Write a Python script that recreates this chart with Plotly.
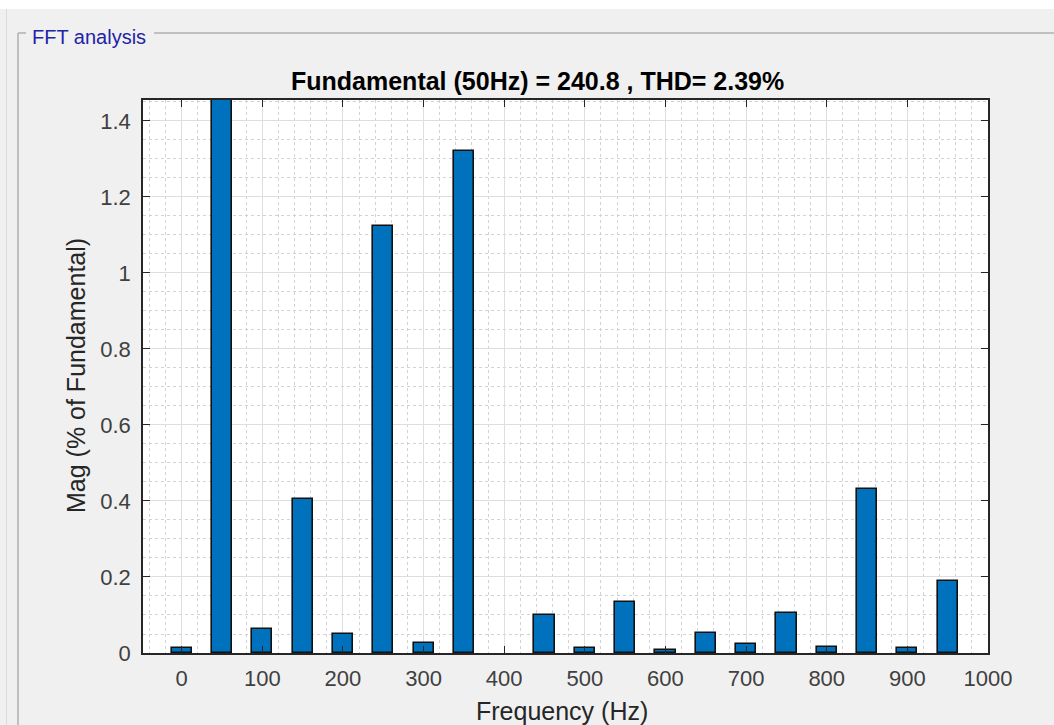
import plotly.graph_objects as go

# ---- data ----
freqs_hz = [0, 50, 100, 150, 200, 250, 300, 350, 400, 450,
            500, 550, 600, 650, 700, 750, 800, 850, 900, 950]
mag_pct = [0.013, 100.0, 0.062, 0.405, 0.049, 1.123, 0.026, 1.320, 0.0, 0.101,
           0.013, 0.133, 0.009, 0.052, 0.025, 0.105, 0.017, 0.431, 0.013, 0.189]
x_ticks = [0, 100, 200, 300, 400, 500, 600, 700, 800, 900, 1000]
y_ticks = [0, 0.2, 0.4, 0.6, 0.8, 1.0, 1.2, 1.4]
y_tick_labels = ["0", "0.2", "0.4", "0.6", "0.8", "1", "1.2", "1.4"]
title_text = "Fundamental (50Hz) = 240.8 , THD= 2.39%"
panel_title = "FFT analysis"

W, H = 1054, 725
def fx(px):
    return px / W
def fy(py):
    return 1 - py / H

FONT = "Liberation Sans, Arial, Helvetica, sans-serif"
AX = "#262626"

# no outline for empty (zero) bins
outline_w = [1.6 if v > 0 else 0 for v in mag_pct]

fig = go.Figure()
fig.add_trace(go.Bar(
    x=freqs_hz, y=mag_pct, width=25,
    marker=dict(color="#0072BD", line=dict(color="#111111", width=outline_w)),
    hoverinfo="x+y",
))

axis_common = dict(
    showline=True, linecolor=AX, linewidth=1.5, mirror="allticks",
    ticks="inside", ticklen=7, tickwidth=1.3, tickcolor=AX,
    showgrid=True, gridcolor="#dedede", gridwidth=1,
    zeroline=False, automargin=False,
    tickfont=dict(family=FONT, size=22, color="#404040"),
)

fig.update_layout(
    width=W, height=H,
    margin=dict(l=0, r=0, t=0, b=0),
    paper_bgcolor="#f0f0f0", plot_bgcolor="#ffffff",
    showlegend=False,
    bargap=0,
    xaxis=dict(domain=[fx(143), fx(988)], range=[-48, 1000],
               tickmode="array", tickvals=x_ticks, ticklabelstandoff=5,
               minor=dict(dtick=20, tick0=0, showgrid=True, gridcolor="#d2d2d2",
                          griddash="dot", gridwidth=1, ticks=""),
               **axis_common),
    yaxis=dict(domain=[fy(653), fy(100)], range=[0, 1.455],
               tickmode="array", tickvals=y_ticks, ticktext=y_tick_labels,
               ticklabelstandoff=6,
               minor=dict(dtick=0.05, tick0=0, showgrid=True, gridcolor="#d2d2d2",
                          griddash="dot", gridwidth=1, ticks=""),
               **axis_common),
)

shapes = [
    # white strip at the very top
    dict(type="rect", xref="paper", yref="paper", x0=0, x1=1, y0=fy(9), y1=1,
         fillcolor="#ffffff", line=dict(width=0), layer="below"),
    # faint outer frame line on the left
    dict(type="line", xref="paper", yref="paper", x0=fx(6.5), x1=fx(6.5), y0=0, y1=fy(9),
         line=dict(color="#dcdcdc", width=1)),
    # group box: left line
    dict(type="line", xref="paper", yref="paper", x0=fx(18), x1=fx(18), y0=0, y1=fy(33),
         line=dict(color="#b0b0b0", width=1.5)),
    # group box: top line (left short piece)
    dict(type="line", xref="paper", yref="paper", x0=fx(18), x1=fx(26), y0=fy(33), y1=fy(33),
         line=dict(color="#b0b0b0", width=1.5)),
    # group box: top line (after the label)
    dict(type="line", xref="paper", yref="paper", x0=fx(154), x1=1, y0=fy(33), y1=fy(33),
         line=dict(color="#b0b0b0", width=1.5)),
]
fig.update_layout(shapes=shapes)

annotations = [
    dict(text=panel_title, xref="paper", yref="paper", x=fx(30), y=fy(37),
         xanchor="left", yanchor="middle", showarrow=False,
         font=dict(family=FONT, size=20, color="#2323a8")),
    dict(text="<b>" + title_text + "</b>", xref="paper", yref="paper",
         x=fx(538), y=fy(81), xanchor="center", yanchor="middle", showarrow=False,
         font=dict(family=FONT, size=25, color="#000000")),
    dict(text="Frequency (Hz)", xref="paper", yref="paper",
         x=fx(562), y=fy(711), xanchor="center", yanchor="middle", showarrow=False,
         font=dict(family=FONT, size=25, color="#262626")),
    dict(text="Mag (% of Fundamental)", xref="paper", yref="paper",
         x=fx(76), y=fy(376), xanchor="center", yanchor="middle", showarrow=False,
         textangle=-90,
         font=dict(family=FONT, size=25, color="#262626")),
]
fig.update_layout(annotations=annotations)

fig.write_html("out.html")
